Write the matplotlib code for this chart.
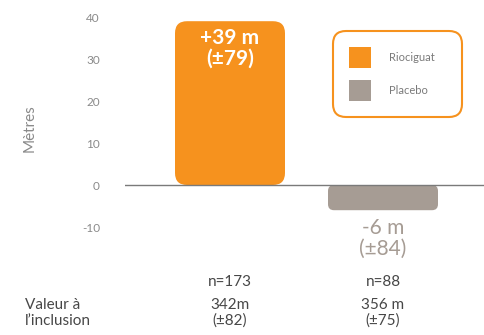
import matplotlib.pyplot as plt
import matplotlib.transforms as mtransforms
from matplotlib.patches import FancyBboxPatch

plt.rcParams['font.family'] = ['Lato', 'DejaVu Sans']
plt.rcParams['axes.unicode_minus'] = False

# change in walking distance (m) per arm
groups = ["Riociguat", "Placebo"]
changes = [39, -6]
change_sd = [79, 84]
n_patients = [173, 88]
baseline = ["342m", "356 m"]
baseline_sd = [82, 75]
colors = ["#f6921e", "#a69c94"]
label_colors = ["white", "#a69c94"]
yticks = [-10, 0, 10, 20, 30, 40]

W, H, DPI = 485, 335, 100
fig = plt.figure(figsize=(W / DPI, H / DPI), dpi=DPI)

# axes placed in pixel terms: left 125, right 485, top 10, bottom 260
ax_l, ax_r, ax_t, ax_b = 125, 485, 10, 260
ax = fig.add_axes([ax_l / W, (H - ax_b) / H, (ax_r - ax_l) / W, (ax_b - ax_t) / H])
px_y = 4.2  # pixels per metre
ax.set_ylim(-(ax_b - 185) / px_y, (185 - ax_t) / px_y)
px_x = 153.0
ax.set_xlim((ax_l - 230) / px_x, (ax_r - 230) / px_x)

for s in ax.spines.values():
    s.set_visible(False)
ax.set_xticks([])
ax.set_yticks(yticks)
ax.tick_params(axis='y', length=0, pad=18, labelsize=8.5, labelcolor="#8a8a8a")
ax.axhline(0, color="#7a7a7a", lw=1.0, zorder=3)

xpos = list(range(len(groups)))
bars = ax.bar(xpos, changes, width=110 / px_x, color=colors)

aspect = (1 / px_y) / (1 / px_x)
for bar, col, rad in zip(bars, colors, [12, 6]):
    x0, w = bar.get_x(), bar.get_width()
    h = bar.get_height()
    y0 = min(0, h)
    bar.set_visible(False)
    box = FancyBboxPatch((x0, y0), w, abs(h),
                         boxstyle=f"round,pad=0,rounding_size={rad / px_x}",
                         mutation_aspect=aspect, fc=col, ec="none", zorder=2)
    ax.add_patch(box)

# value labels
for x, v, sd, c in zip(xpos, changes, change_sd, label_colors):
    if v > 0:
        ax.text(x, v - 1.5, f"+{v} m\n(±{sd})", ha="center", va="top", color=c,
                fontsize=15, fontweight="bold", linespacing=1.05)
    else:
        ax.text(x, v - 1.8, f"{v} m\n(±{sd})", ha="center", va="top", color=c,
                fontsize=15, linespacing=1.05)

# sample sizes and baseline values under the chart
fig_y = lambda py: (H - py) / H
blend = mtransforms.blended_transform_factory(ax.transData, fig.transFigure)
for x, n, b, bsd in zip(xpos, n_patients, baseline, baseline_sd):
    ax.text(x, fig_y(282), f"n={n}", transform=blend, ha="center", va="center",
            fontsize=11, color="#474747")
    ax.text(x, fig_y(313), f"{b}\n(±{bsd})", transform=blend, ha="center",
            va="center", fontsize=11, color="#474747", linespacing=1.1)
fig.text(25 / W, fig_y(313), "Valeur à\nl’inclusion", ha="left", va="center",
         fontsize=11, color="#474747", linespacing=1.1)

fig.text(30 / W, fig_y(128), "Mètres", rotation=90, ha="center", va="center",
         fontsize=11, color="#8a8a8a")

# legend box drawn in its own pixel-scaled axes
lg_l, lg_r, lg_t, lg_b = 330, 465, 28, 120
lax = fig.add_axes([lg_l / W, (H - lg_b) / H, (lg_r - lg_l) / W, (lg_b - lg_t) / H])
lax.set_xlim(lg_l, lg_r)
lax.set_ylim(lg_b, lg_t)
lax.axis("off")
lax.add_patch(FancyBboxPatch((333, 31), 129, 86,
                             boxstyle="round,pad=0,rounding_size=13",
                             fc="white", ec="#f6921e", lw=1.5))
for i, (g, c) in enumerate(zip(groups, colors)):
    top = 47 + i * 33
    lax.add_patch(plt.Rectangle((349, top), 22, 21, fc=c, ec="none"))
    lax.text(389, top + 10.5, g, ha="left", va="center", fontsize=8,
             color="#7a7a7a")

fig.savefig("out.png", dpi=DPI)
